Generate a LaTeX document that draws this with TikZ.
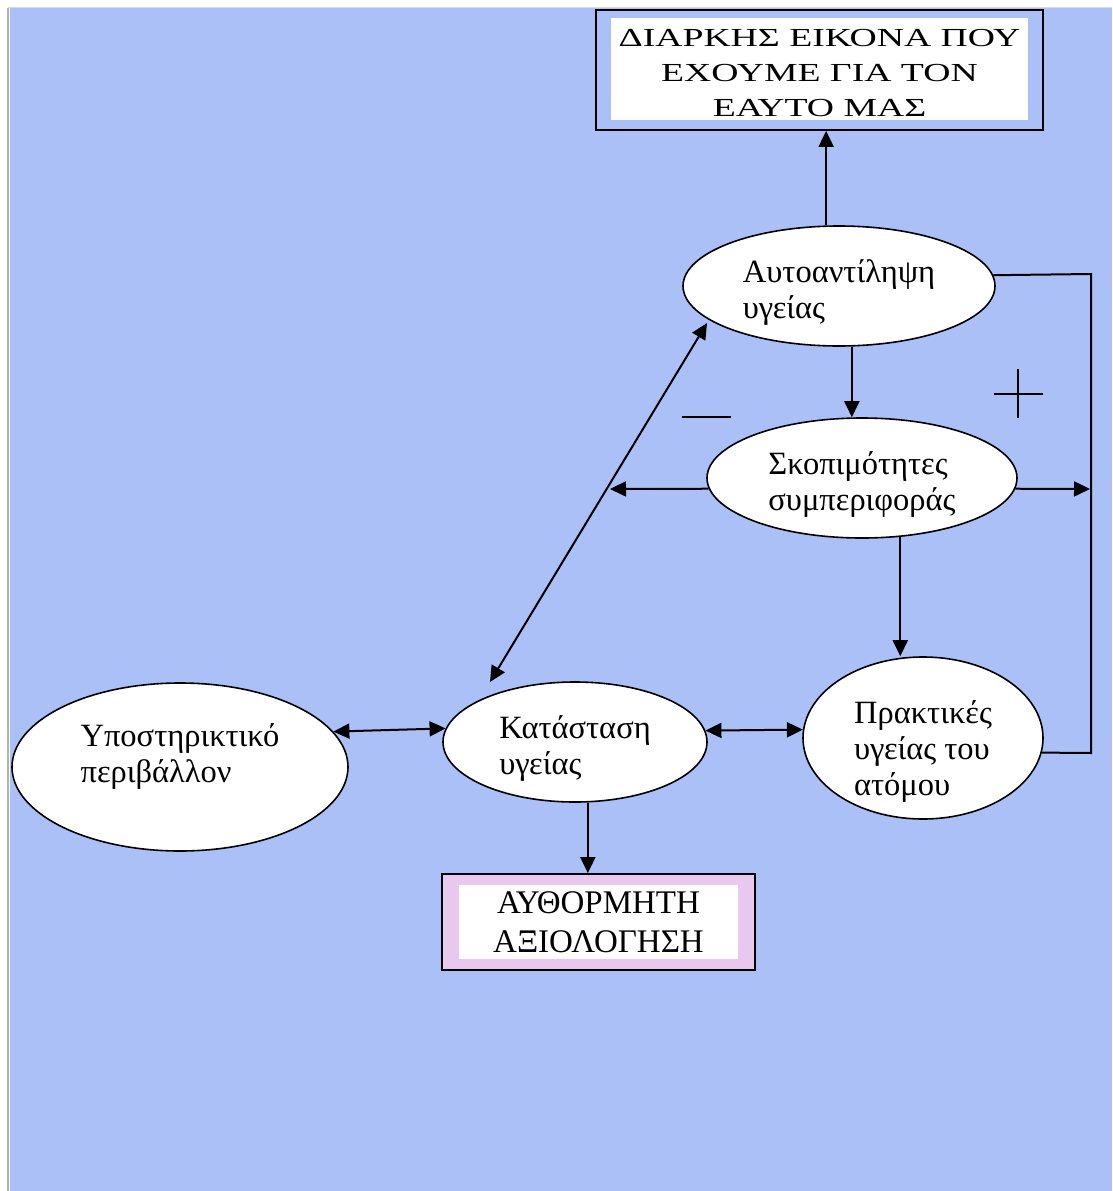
\documentclass[tikz,border=0pt]{standalone}
\usepackage{fontspec}
\setmainfont{Liberation Serif}
\newfontfamily\widefont[FakeStretch=1.45]{Liberation Serif}
\usetikzlibrary{arrows.meta,calc,shapes.geometric}
\definecolor{bgblue}{RGB}{172,192,248}
\definecolor{pinkband}{RGB}{232,200,238}
\newcommand{\upstrut}[1]{\rule{0pt}{#1}}
\newcommand{\downstrut}[1]{\rule[-#1]{0pt}{1pt}}
\begin{document}
\begin{tikzpicture}[x=1pt,y=-1pt,
  ell/.style={ellipse, draw, line width=1.6pt, fill=white, inner sep=0pt, align=left,
              font=\fontsize{32.5}{36}\selectfont},
  framebox/.style={draw, line width=1.8pt, inner sep=0pt, align=center},
  arr/.style={line width=2pt, -{Triangle[length=16pt,width=15pt]}},
  dbl/.style={line width=2pt, {Triangle[length=16pt,width=15pt]}-{Triangle[length=16pt,width=15pt]}},
  plainline/.style={line width=2pt},
  sign/.style={line width=1.5pt}]
% background
\useasboundingbox (0,0) rectangle (1112,1191);
\fill[white] (0,0) rectangle (1112,1191);
\fill[bgblue] (10,8) rectangle (1112,1191);
\draw[gray!60, line width=2pt] (8,8) -- (8,1191);
\draw[gray!30, line width=1pt] (8,7.5) -- (1112,7.5);

% boxes
\node[framebox, fill=bgblue, minimum width=447pt, minimum height=120pt,
      font=\widefont\fontsize{26}{35}\selectfont,
      path picture={\fill[white] ($(path picture bounding box.south west)+(15pt,10pt)$) rectangle ($(path picture bounding box.north east)+(-15pt,-8pt)$);}]
      (t) at (819.5,70) {\upstrut{23pt}ΔΙΑΡΚΗΣ ΕΙΚΟΝΑ ΠΟΥ\\ΕΧΟΥΜΕ ΓΙΑ ΤΟΝ\\ΕΑΥΤΟ ΜΑΣ};
\node[framebox, fill=pinkband, minimum width=313pt, minimum height=96pt,
      font=\fontsize{33}{39}\selectfont,
      path picture={\fill[white] ($(path picture bounding box.south west)+(17pt,11pt)$) rectangle ($(path picture bounding box.north east)+(-17pt,-11pt)$);}]
      (b) at (598.5,922) {ΑΥΘΟΡΜΗΤΗ\\ΑΞΙΟΛΟΓΗΣΗ};

% ellipses
\node[ell, minimum width=312pt, minimum height=120pt] (a) at (839,286) {\upstrut{35pt}Αυτοαντίληψη\\υγείας};
\node[ell, minimum width=310pt, minimum height=120pt] (s) at (862,478) {\upstrut{35pt}Σκοπιμότητες\\συμπεριφοράς};
\node[ell, minimum width=240pt, minimum height=162pt, inner ysep=-25pt] (p) at (923,738) {\upstrut{50pt}Πρακτικές\\υγείας του\\ατόμου};
\node[ell, minimum width=264pt, minimum height=120pt] (k) at (575,742) {\upstrut{35pt}Κατάσταση\\υγείας};
\node[ell, minimum width=336pt, minimum height=168pt] (u) at (180,767) {Υποστηρικτικό\\περιβάλλον\downstrut{28pt}};

% helper coordinates
\coordinate (sl) at (610,489);
\coordinate (sr) at (1090,489);
\coordinate (c1) at (1091,274);
\coordinate (c2) at (1091,753);
\coordinate (d1) at (707,323);
\coordinate (d2) at (490,682);

% connectors
\draw[arr] (a.102.2) -- (a.102.2 |- t.south);
\draw[arr] (a.-78.7) -- (a.-78.7 |- s.north);
\draw[arr] (s.-57.6) -- (s.-57.6 |- p.north);
\draw[arr] (s.184.1) -- (sl);
\draw[arr] (s.-4.1) -- (sr);
\draw[plainline] (a.4.5) -- (c1) -- (c2) -- (p.-7.2);
\draw[dbl] (d2) -- (d1);
\draw[dbl] (u.13.8) -- (k.174.7);
\draw[dbl] (k.5.3) -- (p.176.2);
\draw[arr] (k.-78.7) -- (k.-78.7 |- b.north);

% signs
\draw[sign] (682,417) -- (731,417);
\draw[sign] (994,394) -- (1043,394);
\draw[sign] (1018,369) -- (1018,418);
\end{tikzpicture}
\end{document}
